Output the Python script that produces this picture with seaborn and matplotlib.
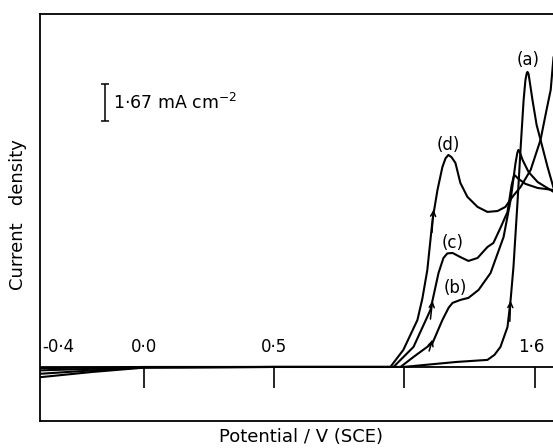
import matplotlib
matplotlib.use("Agg")
import matplotlib.pyplot as plt
import seaborn as sns
import pandas as pd

# ---- data (potential in V vs SCE, current density in mA cm^-2) ----
a_V = [-0.4, -0.2, 0.0, 0.5, 0.996, 1.2, 1.319, 1.346, 1.369, 1.396, 1.408, 1.419, 1.435, 1.446,
       1.458, 1.465, 1.470, 1.473, 1.477, 1.481, 1.492, 1.508, 1.523, 1.55, 1.573]
a_I = [-0.45, -0.22, -0.03, 0.0, 0.0, 0.22, 0.31, 0.53, 0.88, 1.75, 2.94, 4.39, 7.32, 9.52,
       11.71, 12.59, 12.88, 12.94, 12.85, 12.55, 11.71, 10.61, 9.96, 8.77, 7.85]

b_V = [-0.4, -0.2, 0.0, 0.5, 0.985, 1.035, 1.108, 1.146, 1.170, 1.185, 1.215, 1.246, 1.285, 1.331,
       1.381, 1.408, 1.427, 1.434, 1.438, 1.444, 1.454, 1.477, 1.512, 1.573]
b_I = [-0.3, -0.15, -0.02, 0.0, 0.0, 0.44, 1.05, 2.06, 2.60, 2.81, 2.94, 3.03, 3.38, 4.12,
       5.70, 7.32, 8.95, 9.40, 9.52, 9.40, 9.08, 8.55, 8.11, 7.68]

c_V = [-0.4, -0.2, 0.0, 0.5, 0.958, 1.035, 1.1, 1.131, 1.15, 1.165, 1.185, 1.215, 1.246, 1.281,
       1.319, 1.342, 1.369, 1.396, 1.412, 1.420, 1.425, 1.438, 1.465, 1.512, 1.573]
c_I = [-0.15, -0.08, -0.01, 0.0, 0.0, 0.88, 2.5, 4.12, 4.78, 4.98, 5.0, 4.82, 4.65, 4.78,
       5.26, 5.44, 6.10, 6.80, 7.98, 8.35, 8.40, 8.25, 8.03, 7.85, 7.76]

d_V = [-0.4, -0.2, 0.0, 0.5, 0.946, 0.996, 1.05, 1.069, 1.088, 1.108, 1.127, 1.146, 1.158, 1.169,
       1.181, 1.196, 1.215, 1.242, 1.281, 1.319, 1.358, 1.388, 1.415, 1.446, 1.485, 1.523, 1.546,
       1.562, 1.573]
d_I = [-0.05, -0.03, 0.0, 0.0, 0.0, 0.75, 2.06, 3.0, 4.25, 6.45, 7.76, 8.77, 9.15, 9.30,
       9.20, 8.95, 8.07, 7.46, 7.02, 6.80, 6.84, 7.02, 7.46, 7.89, 8.64, 9.96, 11.27,
       12.15, 13.6]

curve_names = ["(a)", "(b)", "(c)", "(d)"]
label_V = [1.477, 1.196, 1.185, 1.169]
label_I = [13.46, 3.46, 5.44, 9.74]

# arrow heads: position and a point just behind along the curve
arrow_V = [1.408, 1.108, 1.108, 1.112]
arrow_I = [2.9, 1.2, 2.9, 6.9]
arrow_from_V = [1.405, 1.095, 1.100, 1.106]
arrow_from_I = [2.0, 0.7, 2.1, 5.9]

tick_V = [0.0, 0.5, 1.0, 1.5]
ticklabel_text = ["-0·4", "0·0", "0·5", "1·6"]
ticklabel_V = [-0.39, 0.0, 0.5, 1.488]

scale_value = "1·67 mA cm$^{-2}$"
scale_V = -0.15
scale_lo, scale_hi = 10.79, 12.41

frames = []
for name, V, I in zip(curve_names, [a_V, b_V, c_V, d_V], [a_I, b_I, c_I, d_I]):
    frames.append(pd.DataFrame({"V": V, "I": I, "curve": name}))
df = pd.concat(frames, ignore_index=True)

sns.set_theme(style="white")
plt.rcParams["font.family"] = ["DejaVu Sans"]
plt.rcParams["text.color"] = "black"

fig = plt.figure(figsize=(5.53, 4.48), dpi=100)
ax = fig.add_axes([40 / 553, 27 / 448, 1 - 40 / 553 + 0.001, (421 - 14) / 448])

sns.lineplot(data=df, x="V", y="I", units="curve", estimator=None, sort=False,
             color="black", linewidth=1.5, ax=ax, legend=False,
             solid_joinstyle="round", solid_capstyle="round")

ax.set_xlim(-0.4, 1.573)
ax.set_ylim(-2.37, 15.48)
ax.axhline(0, color="black", lw=1.3, zorder=1)

# tick marks below the zero line
ax.vlines(tick_V, -0.92, 0, color="black", lw=1.2)
for t, v in zip(ticklabel_text, ticklabel_V):
    ha = "left" if v < -0.3 else "center"
    ax.text(v, 0.88, t, ha=ha, va="center", fontsize=12)

for n, v, i in zip(curve_names, label_V, label_I):
    ax.text(v, i, n, ha="center", va="center", fontsize=12)

for x1, y1, x0, y0 in zip(arrow_V, arrow_I, arrow_from_V, arrow_from_I):
    ax.annotate("", xy=(x1, y1), xytext=(x0, y0),
                arrowprops=dict(arrowstyle="->", color="black", lw=1.1,
                                mutation_scale=9, shrinkA=0, shrinkB=0))

# scale bar
ax.vlines(scale_V, scale_lo, scale_hi, color="black", lw=1.1)
ax.hlines([scale_lo, scale_hi], scale_V - 0.017, scale_V + 0.017, color="black", lw=1.1)
ax.text(scale_V + 0.03, (scale_lo + scale_hi) / 2, scale_value, ha="left", va="center",
        fontsize=12.5)

ax.set_xticks([])
ax.set_yticks([])
ax.set_xlabel("")
ax.set_ylabel("")
for s in ["left", "top", "bottom"]:
    ax.spines[s].set_color("black")
    ax.spines[s].set_linewidth(1.3)
ax.spines["right"].set_visible(False)

fig.text(301 / 553, 1 - 437 / 448, "Potential / V (SCE)", ha="center", va="center",
         fontsize=13)
fig.text(18 / 553, 1 - 215 / 448, "Current   density", ha="center", va="center",
         rotation=90, fontsize=13)

fig.savefig("out.png", dpi=100)
